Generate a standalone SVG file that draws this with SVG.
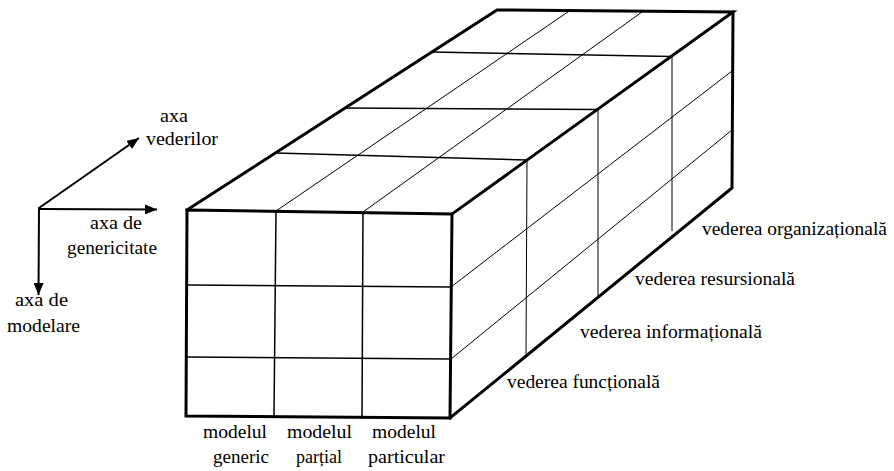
<svg xmlns="http://www.w3.org/2000/svg" width="894" height="471" viewBox="0 0 894 471">
  <style>
    .bg { fill: #ffffff; }
    .edge { fill: none; stroke: #000; stroke-width: 3; stroke-linejoin: miter; stroke-linecap: square; }
    .mid { fill: none; stroke: #000; stroke-width: 1.5; }
    .thin { fill: none; stroke: #000; stroke-width: 1; }
    .axis { fill: none; stroke: #000; stroke-width: 2; }
    .lbl { font-family: "Liberation Serif", "DejaVu Serif", serif; font-size: 19px; fill: #000; }
  </style>
  <defs>
    <marker id="head" viewBox="0 0 12 10" refX="12" refY="5" markerWidth="12" markerHeight="10" markerUnits="userSpaceOnUse" orient="auto">
      <path d="M0,0 L12,5 L0,10 z" fill="#000"/>
    </marker>
  </defs>
  <rect class="bg" x="0" y="0" width="894" height="471"/>

  <!-- coordinate axes -->
  <g id="axes">
    <line class="axis" x1="39" y1="208" x2="139" y2="138" marker-end="url(#head)"/>
    <line class="axis" x1="38" y1="209" x2="157" y2="209.5" marker-end="url(#head)"/>
    <line class="axis" x1="39" y1="207" x2="38.5" y2="295" marker-end="url(#head)"/>
    <text class="lbl" x="160" y="122" textLength="28" lengthAdjust="spacingAndGlyphs">axa</text>
    <text class="lbl" x="146" y="145" textLength="72" lengthAdjust="spacingAndGlyphs">vederilor</text>
    <text class="lbl" x="90" y="229" textLength="52" lengthAdjust="spacingAndGlyphs">axa de</text>
    <text class="lbl" x="67" y="254" textLength="90" lengthAdjust="spacingAndGlyphs">genericitate</text>
    <text class="lbl" x="15" y="306" textLength="53" lengthAdjust="spacingAndGlyphs">axa de</text>
    <text class="lbl" x="7" y="332" textLength="73" lengthAdjust="spacingAndGlyphs">modelare</text>
  </g>

  <!-- cube grid lines -->
  <g id="grid">
    <!-- front face -->
    <line class="mid" x1="276" y1="211" x2="274" y2="416"/>
    <line class="mid" x1="363" y1="212" x2="362" y2="417"/>
    <line class="mid" x1="187" y1="285" x2="451" y2="287"/>
    <line class="mid" x1="186" y1="357" x2="451" y2="359"/>
    <!-- top face: depth divisions -->
    <line class="mid" x1="432" y1="52" x2="672" y2="56.4"/>
    <line class="mid" x1="345" y1="108" x2="598" y2="109.4"/>
    <line class="mid" x1="276" y1="153" x2="527" y2="160"/>
    <!-- top face: column dividers -->
    <line class="thin" x1="276" y1="211" x2="570" y2="10.5"/>
    <line class="thin" x1="363" y1="212" x2="643" y2="11.3"/>
    <!-- right face: depth divisions -->
    <line class="thin" x1="672" y1="56.4" x2="672" y2="231"/>
    <line class="thin" x1="598" y1="109.4" x2="598" y2="296"/>
    <line class="thin" x1="527" y1="160" x2="526" y2="356"/>
    <!-- right face: row dividers -->
    <line class="thin" x1="451" y1="287" x2="732" y2="71"/>
    <line class="thin" x1="451" y1="359" x2="732" y2="130"/>
  </g>

  <!-- cube outline -->
  <g id="cube">
    <path class="edge" d="M187,210 L452,214 L450,418 L186,416 Z"/>
    <path class="edge" d="M187,210 L497,10 L733,12 L452,214"/>
    <path class="edge" d="M733,12 L732,188 L450,418"/>
  </g>

  <!-- labels along the genericity axis -->
  <g id="models">
    <text class="lbl" x="203" y="438" textLength="64" lengthAdjust="spacingAndGlyphs">modelul</text>
    <text class="lbl" x="213" y="463" textLength="56" lengthAdjust="spacingAndGlyphs">generic</text>
    <text class="lbl" x="287" y="438" textLength="65" lengthAdjust="spacingAndGlyphs">modelul</text>
    <text class="lbl" x="296" y="463" textLength="46" lengthAdjust="spacingAndGlyphs">parțial</text>
    <text class="lbl" x="372" y="438" textLength="64" lengthAdjust="spacingAndGlyphs">modelul</text>
    <text class="lbl" x="368" y="463" textLength="77" lengthAdjust="spacingAndGlyphs">particular</text>
  </g>

  <!-- labels along the views axis -->
  <g id="views">
    <text class="lbl" x="702" y="235" textLength="185" lengthAdjust="spacingAndGlyphs">vederea organizațională</text>
    <text class="lbl" x="635" y="285" textLength="160" lengthAdjust="spacingAndGlyphs">vederea resursională</text>
    <text class="lbl" x="580" y="338" textLength="182" lengthAdjust="spacingAndGlyphs">vederea informațională</text>
    <text class="lbl" x="507" y="388" textLength="153" lengthAdjust="spacingAndGlyphs">vederea funcțională</text>
  </g>
</svg>
